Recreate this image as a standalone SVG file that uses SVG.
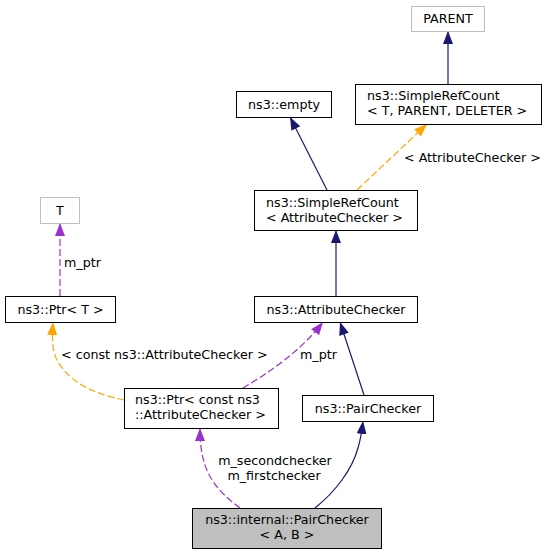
<svg xmlns="http://www.w3.org/2000/svg" width="549" height="555" viewBox="0 0 549 555">
<style>
text{font-family:"DejaVu Sans","Liberation Sans",sans-serif;font-size:12.7px;fill:#000}
.box{fill:#fff;stroke:#000;stroke-width:1}
.gbox{fill:#fff;stroke:#bfbfbf;stroke-width:1}
.sel{fill:#bfbfbf;stroke:#000;stroke-width:1}
.c{text-anchor:middle}
.inh{fill:none;stroke:#191970;stroke-width:1.2}
.tpl{fill:none;stroke:#ffa500;stroke-width:1.2;stroke-dasharray:7,3}
.use{fill:none;stroke:#9a32cd;stroke-width:1.2;stroke-dasharray:7,3}
</style>
<defs>
<marker id="an" markerUnits="userSpaceOnUse" markerWidth="14" markerHeight="12" refX="13" refY="5" orient="auto" viewBox="0 0 14 10"><path d="M0,0 L13,5 L0,10 z" fill="#191970"/></marker>
<marker id="ao" markerUnits="userSpaceOnUse" markerWidth="14" markerHeight="12" refX="13" refY="5" orient="auto" viewBox="0 0 14 10"><path d="M0,0 L13,5 L0,10 z" fill="#ffa500"/></marker>
<marker id="ap" markerUnits="userSpaceOnUse" markerWidth="14" markerHeight="12" refX="13" refY="5" orient="auto" viewBox="0 0 14 10"><path d="M0,0 L13,5 L0,10 z" fill="#9a32cd"/></marker>
</defs>
<g id="connectors">
<path class="inh" d="M448,84 L448,31" marker-end="url(#an)"/>
<path class="inh" d="M327,190 L290,117" marker-end="url(#an)"/>
<path class="tpl" d="M357,190 L427,124" marker-end="url(#ao)"/>
<text x="404" y="161.5">&lt; AttributeChecker &gt;</text>
<path class="inh" d="M336,296 L336,230" marker-end="url(#an)"/>
<path class="use" d="M60,296 L60,223" marker-end="url(#ap)"/>
<text x="64" y="267">m_ptr</text>
<path class="tpl" d="M124,400 C100,395 70,385 57,360 C52,350 52,338 53,322" marker-end="url(#ao)"/>
<text x="61" y="358.5">&lt; const ns3::AttributeChecker &gt;</text>
<path class="use" d="M243,388 C268,373 300,352 323,322" marker-end="url(#ap)"/>
<text x="300" y="358.5">m_ptr</text>
<path class="inh" d="M364,395 L340,322" marker-end="url(#an)"/>
<path class="use" d="M240,508 C225,497 210,483 204,462 C201,452 200,440 200,428" marker-end="url(#ap)"/>
<text class="c" x="275" y="464.5">m_secondchecker</text>
<text class="c" x="274" y="479.5">m_firstchecker</text>
<path class="inh" d="M315,508 C335,492 352,470 358,448 C361,438 362,430 363,421" marker-end="url(#an)"/>
</g>
<g id="parent"><rect class="gbox" x="411.5" y="6.5" width="73" height="25"/><text class="c" x="448" y="23">PARENT</text></g>
<g id="srcTPD"><rect class="box" x="355.5" y="84.5" width="186" height="40"/><text x="367" y="100">ns3::SimpleRefCount</text><text x="367" y="115">&lt; T, PARENT, DELETER &gt;</text></g>
<g id="empty"><rect class="box" x="236.5" y="91.5" width="95" height="26"/><text class="c" x="284" y="108.5">ns3::empty</text></g>
<g id="srcAC"><rect class="box" x="254.5" y="190.5" width="163" height="40"/><text x="266" y="206.5">ns3::SimpleRefCount</text><text x="266" y="221.5">&lt; AttributeChecker &gt;</text></g>
<g id="t"><rect class="gbox" x="40.5" y="197.5" width="39" height="26"/><text class="c" x="60" y="214.5">T</text></g>
<g id="ptrT"><rect class="box" x="5.5" y="296.5" width="110" height="26"/><text class="c" x="60.5" y="313.5">ns3::Ptr&lt; T &gt;</text></g>
<g id="ac"><rect class="box" x="254.5" y="296.5" width="163" height="26"/><text class="c" x="336" y="313.5">ns3::AttributeChecker</text></g>
<g id="ptrAC"><rect class="box" x="124.5" y="388.5" width="154" height="40"/><text x="135" y="403.5">ns3::Ptr&lt; const ns3</text><text x="135" y="418.5">::AttributeChecker &gt;</text></g>
<g id="pairChecker"><rect class="box" x="302.5" y="395.5" width="131" height="26"/><text class="c" x="368" y="412.5">ns3::PairChecker</text></g>
<g id="internalPairChecker"><rect class="sel" x="192.5" y="508.5" width="189" height="40"/><text class="c" x="287" y="523.5">ns3::internal::PairChecker</text><text class="c" x="287" y="538.5">&lt; A, B &gt;</text></g>
</svg>
